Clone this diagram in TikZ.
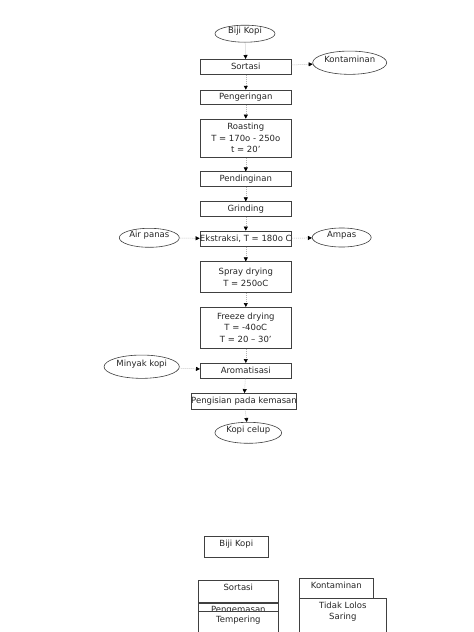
\documentclass[tikz,border=0pt]{standalone}
\usepackage{fontspec}
\setmainfont{DejaVu Sans}
\usetikzlibrary{arrows.meta,shapes.geometric}

\begin{document}
\begin{tikzpicture}[
  x=1pt, y=-1pt,
  every node/.style={font=\fontsize{8.5}{11.5}\selectfont, text=black!85},
  proc/.style={draw=black!75, line width=0.6pt, fill=white, inner sep=0pt,
    minimum width=91pt, align=center},
  term/.style={ellipse, draw=black!75, line width=0.6pt, inner sep=0pt,
    text height=4pt, text depth=5pt},
  sheet/.style={draw=black!75, line width=0.6pt, fill=white, inner sep=0pt,
    anchor=north west},
  arr/.style={draw=black!30, line width=0.5pt, dash pattern=on 1pt off 1pt,
    -{Triangle[length=4pt, width=4pt, color=black]}},
]
\clip (0,0) rectangle (474,632);
\fill[white] (0,0) rectangle (474,632);

% Main flow
\node[term, minimum width=60pt, minimum height=17pt] (biji) at (245,33.7) {Biji Kopi};
\node[proc, minimum height=15pt] (sortasi) at (245.8,66.8) {Sortasi};
\node[proc, minimum height=14.3pt] (kering) at (245.8,97.2) {Pengeringan};
\node[proc, minimum height=38.7pt] (roast) at (245.8,138.3)
  {Roasting\\T = 170o - 250o\\t = 20’};
\node[proc, minimum height=15pt] (dingin) at (245.8,179.2) {Pendinginan};
\node[proc, minimum height=15pt] (grind) at (245.8,209.2) {Grinding};
\node[proc, minimum height=15.7pt] (ekstrak) at (245.8,238.8) {Ekstraksi, T = 180o C};
\node[proc, minimum height=31pt] (spray) at (245.8,277.2) {Spray drying\\T = 250oC};
\node[proc, minimum height=41pt] (freeze) at (245.8,327.8)
  {Freeze drying\\T = -40oC\\T = 20 – 30’};
\node[proc, minimum height=15pt] (aroma) at (245.8,370.8) {Aromatisasi};
\node[proc, minimum width=103.4pt, minimum height=15.7pt] (isi) at (244,401.2)
  {Pengisian pada kemasan};
\node[term, minimum width=66.7pt, minimum height=21pt] (celup) at (248.3,432.8) {Kopi celup};

% Side inputs and outputs
\node[term, minimum width=74pt, minimum height=23.3pt] (konta) at (349.7,62.7) {Kontaminan};
\node[term, minimum width=60pt, minimum height=19pt] (air) at (149.3,237.8) {Air panas};
\node[term, minimum width=59pt, minimum height=19pt] (ampas) at (341.7,237.5) {Ampas};
\node[term, minimum width=75.3pt, minimum height=23.3pt] (minyak) at (141.7,366.7) {Minyak kopi};

% Arrows
\foreach \a/\b in {biji/sortasi, sortasi/kering, kering/roast, roast/dingin,
  dingin/grind, grind/ekstrak, ekstrak/spray, spray/freeze, freeze/aroma,
  aroma/isi, isi/celup, sortasi/konta, air/ekstrak, ekstrak/ampas, minyak/aroma}
  \draw[arr] (\a) -- (\b);

% Lower sheet
\node[sheet, minimum width=64pt, text height=10pt, text depth=11pt] (biji2) at (204,536) {Biji Kopi};
\node[sheet, minimum width=80pt, text height=9.7pt, text depth=11.8pt] (sortasi2) at (198,580) {Sortasi};
\node[sheet, minimum width=80pt, text height=8.7pt, text depth=12pt] (kemas) at (198,603.3) {Pengemasan};
\node[sheet, minimum width=80pt, text height=11pt, text depth=30pt] (temper) at (198,611) {Tempering};
\node[sheet, minimum width=74pt, text height=10pt, text depth=10pt] (konta2) at (299,578) {Kontaminan};
\node[sheet, minimum width=87pt, minimum height=50pt,
  label={[align=center, anchor=north, inner sep=0pt, yshift=-3.5pt]north:Tidak Lolos\\Saring}]
  (lolos) at (299,598) {};

\end{tikzpicture}
\end{document}
